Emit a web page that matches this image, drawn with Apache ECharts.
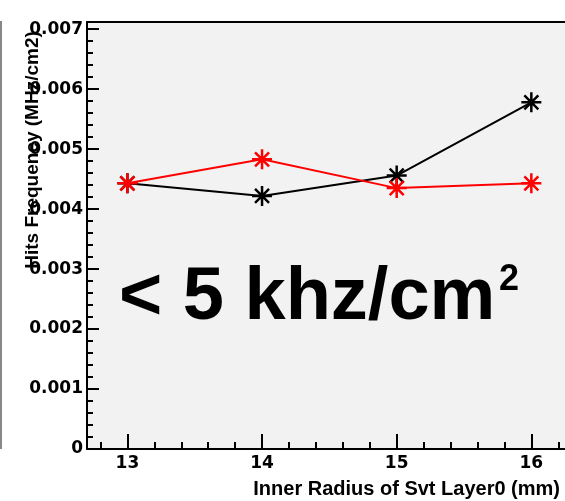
<!DOCTYPE html>
<html>
<head>
<meta charset="utf-8">
<script src="https://cdn.jsdelivr.net/npm/echarts@6/dist/echarts.min.js"></script>
<style>
  html, body { margin: 0; padding: 0; background: #fff; }
  #main { width: 565px; height: 501px; }
</style>
</head>
<body>
<div id="main"></div>
<script>
// radius values (mm)
var radii = [13, 14, 15, 16];
// hits frequency (MHz/cm2)
var blackHits = [0.00443, 0.00422, 0.00456, 0.00578];
var redHits = [0.00443, 0.00483, 0.00435, 0.00443];
// tick labels
var xTicks = [13, 14, 15, 16];
var yTicks = [0, 0.001, 0.002, 0.003, 0.004, 0.005, 0.006, 0.007];

var xMinor = [];
for (var i = 0; i < 18; i++) {
    var v = Math.round((12.8 + i * 0.2) * 10) / 10;
    if (xTicks.indexOf(v) < 0) xMinor.push(v);
}
var yMinor = [];
for (var j = 1; j < 35; j++) {
    if (j % 5 !== 0) yMinor.push(j * 0.0002);
}

var star = 'path://M0,10L20,10M10,0L10,20M3,3L17,17M17,3L3,17';

function pairs(ys) {
    return radii.map(function (r, k) { return [r, ys[k]]; });
}

var myChart = echarts.init(document.getElementById('main'));

var option = {
    animation: false,
    backgroundColor: '#fff',
    grid: { left: 87, right: 0, top: 22, bottom: 52, show: true, backgroundColor: '#f2f2f2', borderWidth: 0 },
    xAxis: [{
        type: 'value', min: 12.7, max: 16.25, position: 'bottom',
        axisLine: { lineStyle: { color: '#000', width: 2 } },
        axisTick: { inside: true, length: 15, customValues: xTicks, lineStyle: { color: '#000', width: 2 } },
        axisLabel: {
            customValues: xTicks, fontSize: 17, margin: 6,
            fontFamily: 'DejaVu Sans', fontWeight: 'bold', color: '#000'
        },
        splitLine: { show: false }
    }, {
        type: 'value', min: 12.7, max: 16.25, position: 'bottom',
        axisLine: { show: false },
        axisTick: { inside: true, length: 7, customValues: xMinor, lineStyle: { color: '#000', width: 2 } },
        axisLabel: { show: false },
        splitLine: { show: false }
    }, {
        type: 'value', min: 12.7, max: 16.25, position: 'top',
        axisLine: { lineStyle: { color: '#000', width: 2 } },
        axisTick: { show: false }, axisLabel: { show: false }, splitLine: { show: false }
    }],
    yAxis: [{
        type: 'value', min: 0, max: 0.00712, position: 'left',
        axisLine: { show: true, lineStyle: { color: '#000', width: 2 } },
        axisTick: { show: true, inside: true, length: 12, customValues: yTicks, lineStyle: { color: '#000', width: 2 } },
        axisLabel: {
            customValues: yTicks, fontSize: 17, margin: 4,
            fontFamily: 'DejaVu Sans', fontWeight: 'bold', color: '#000',
            formatter: function (v) { return v === 0 ? '0' : v.toFixed(3); }
        },
        splitLine: { show: false }
    }, {
        type: 'value', min: 0, max: 0.00712, position: 'left', offset: 0,
        axisLine: { show: false },
        axisTick: { show: true, inside: true, length: 6, customValues: yMinor, lineStyle: { color: '#000', width: 2 } },
        axisLabel: { show: false },
        splitLine: { show: false }
    }],
    series: [{
        name: 'black', type: 'line', data: pairs(blackHits),
        symbol: star, symbolSize: 20,
        lineStyle: { color: '#000', width: 2 },
        itemStyle: { color: '#000', borderColor: '#000', borderWidth: 2.5 },
        emphasis: { disabled: true }
    }, {
        name: 'red', type: 'line', data: pairs(redHits),
        symbol: star, symbolSize: 20,
        lineStyle: { color: '#ff0000', width: 2 },
        itemStyle: { color: '#ff0000', borderColor: '#ff0000', borderWidth: 2.5 },
        emphasis: { disabled: true }
    }],
    graphic: [{
        type: 'line', shape: { x1: 1, y1: 21, x2: 1, y2: 449 },
        style: { stroke: '#888', lineWidth: 2 }
    }, {
        type: 'text', x: 33, y: 150, rotation: Math.PI / 2,
        style: { text: 'Hits Frequency (MHz/cm2)', font: 'bold 19px "Liberation Sans"', fill: '#000', align: 'center', verticalAlign: 'middle' }
    }, {
        type: 'text', x: 560, y: 489,
        style: { text: 'Inner Radius of Svt Layer0 (mm)', font: 'bold 20px "Liberation Sans"', fill: '#000', align: 'right', verticalAlign: 'middle' }
    }, {
        type: 'text', x: 119, y: 299,
        style: { text: '< 5 khz/cm', font: 'bold 74px "Liberation Sans"', fill: '#000', align: 'left', verticalAlign: 'middle' }
    }, {
        type: 'text', x: 499, y: 280,
        style: { text: '2', font: 'bold 36px "Liberation Sans"', fill: '#000', align: 'left', verticalAlign: 'middle' }
    }]
};

myChart.setOption(option);
</script>
</body>
</html>
